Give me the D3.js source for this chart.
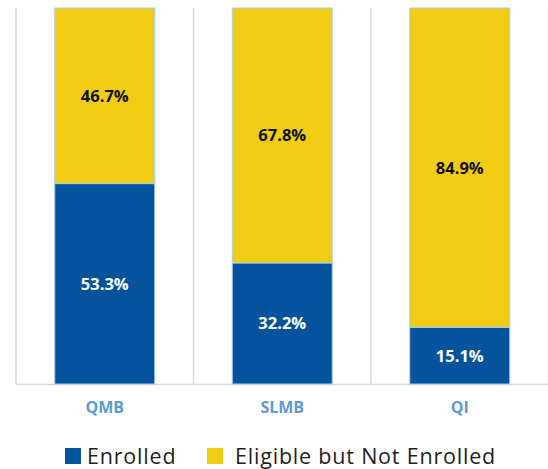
<!DOCTYPE html>
<html>
<head>
<meta charset="utf-8">
<script src="https://cdn.jsdelivr.net/npm/d3@7"></script>
<style>
  body { margin: 0; background: #fff; }
  svg { display: block; }
</style>
</head>
<body>
<div id="chart"></div>
<script>
// categories and series values (percent)
let categories = ["QMB", "SLMB", "QI"];
let enrolled = [53.3, 32.2, 15.1];
let notEnrolled = [46.7, 67.8, 84.9];
let seriesNames = ["Enrolled", "Eligible but Not Enrolled"];
let seriesColors = ["#06539d", "#f0cd14"];

let width = 548;
let height = 469;
let margin = {left: 16, right: 0, top: 8, bottom: 85};

let svg = d3.select("#chart")
    .append("svg")
    .attr("width", width)
    .attr("height", height);

// x 轴：每个类别一个band
let xScale = d3.scaleBand()
    .domain(categories)
    .range([margin.left, margin.left + 177.5 * categories.length])
    .paddingInner(0)
    .paddingOuter(0);

let yScale = d3.scaleLinear()
    .domain([0, 100])
    .range([height - margin.bottom, margin.top]);

let barW = 100;

// 类别分隔线
let sepX = categories.map(c => xScale(c)).concat([xScale.range()[1]]);
svg.selectAll(".sep")
    .data(sepX)
    .enter()
    .append("line")
    .attr("x1", d => d).attr("x2", d => d)
    .attr("y1", yScale(100)).attr("y2", yScale(0))
    .attr("stroke", "#d9d9d9")
    .attr("stroke-width", 1.5);

// 底部轴线
svg.append("line")
    .attr("x1", margin.left).attr("x2", width)
    .attr("y1", yScale(0) + 0.5).attr("y2", yScale(0) + 0.5)
    .attr("stroke", "#d9d9d9")
    .attr("stroke-width", 1.5);

// 堆叠数据
let rows = categories.map((c, i) => ({cat: c, Enrolled: enrolled[i], "Eligible but Not Enrolled": notEnrolled[i]}));
let stacked = d3.stack().keys(seriesNames)(rows);

stacked.forEach((layer, li) => {
    svg.selectAll(".bar-" + li)
        .data(layer)
        .enter()
        .append("rect")
        .attr("x", d => xScale(d.data.cat) + xScale.bandwidth() / 2 - barW / 2)
        .attr("y", d => yScale(d[1]))
        .attr("width", barW)
        .attr("height", d => yScale(d[0]) - yScale(d[1]))
        .attr("fill", seriesColors[li])
        .attr("stroke", "#a9cdec")
        .attr("stroke-width", 1);

    svg.selectAll(".lbl-" + li)
        .data(layer)
        .enter()
        .append("text")
        .attr("x", d => xScale(d.data.cat) + xScale.bandwidth() / 2)
        .attr("y", d => (yScale(d[0]) + yScale(d[1])) / 2)
        .attr("dy", "0.36em")
        .attr("text-anchor", "middle")
        .attr("font-family", "'Open Sans', sans-serif")
        .attr("font-weight", "bold")
        .attr("font-size", 16.5)
        .attr("fill", li === 0 ? "#ffffff" : "#111111")
        .text(d => (d[1] - d[0]).toFixed(1) + "%");
});

// 类别标签
svg.selectAll(".cat")
    .data(categories)
    .enter()
    .append("text")
    .attr("x", d => xScale(d) + xScale.bandwidth() / 2)
    .attr("y", 413)
    .attr("text-anchor", "middle")
    .attr("font-family", "'Open Sans', sans-serif")
    .attr("font-weight", "bold")
    .attr("font-size", 16)
    .attr("fill", "#5b9bd5")
    .text(d => d);

// 图例
let legendX = [65, 207];
let legendGap = [22, 28];
let legend = svg.selectAll(".legend")
    .data(seriesNames)
    .enter()
    .append("g")
    .attr("transform", (d, i) => "translate(" + legendX[i] + ",448)");

legend.append("rect")
    .attr("width", 16)
    .attr("height", 16)
    .attr("fill", (d, i) => seriesColors[i]);

legend.append("text")
    .attr("x", (d, i) => legendGap[i])
    .attr("y", 16)
    .attr("font-family", "'Open Sans', sans-serif")
    .attr("font-size", 21.5)
    .attr("letter-spacing", 0.8)
    .attr("fill", "#231f20")
    .text(d => d);
</script>
</body>
</html>
